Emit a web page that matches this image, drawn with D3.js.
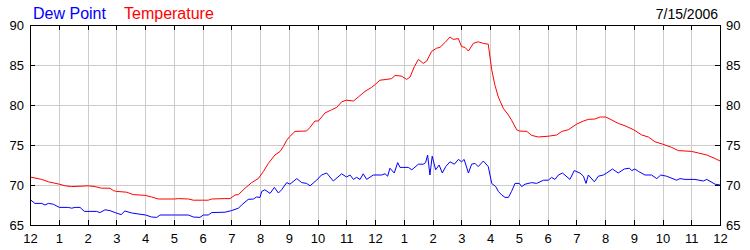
<!DOCTYPE html>
<html>
<head>
<meta charset="utf-8">
<script src="https://cdn.jsdelivr.net/npm/d3@7"></script>
<style>
    body { margin: 0; background: #fff; }
    text { font-family: Arial, "Liberation Sans", sans-serif; }
</style>
</head>
<body>
<svg width="750" height="250"></svg>
<script>
// heures depuis minuit -> valeurs
const tempHours = [0, 0.41, 0.64, 1.02, 1.22, 1.45, 2.03, 2.26, 2.49, 2.78, 2.9, 3.01, 3.36, 3.59, 4.02, 4.23, 4.46,
    5.02, 5.16, 5.51, 5.68, 6.01, 6.2, 6.32, 6.78, 6.96, 7.13, 7.25, 7.48, 7.71, 7.94, 8.12, 8.29, 8.52, 8.7, 8.81,
    8.93, 9.02, 9.22, 9.62, 9.74, 9.91, 10.03, 10.26, 10.49, 10.67, 10.84, 11.01, 11.25, 11.42, 11.65, 11.88, 12.02,
    12.17, 12.41, 12.58, 12.7, 12.93, 13.1, 13.22, 13.37, 13.51, 13.68, 13.8, 13.97, 14.14, 14.26, 14.43, 14.61,
    14.72, 14.9, 15.01, 15.13, 15.25, 15.42, 15.59, 15.77, 15.94, 16.06, 16.17, 16.29, 16.46, 16.64, 16.75, 16.93,
    17.02, 17.28, 17.45, 17.68, 18.03, 18.32, 18.5, 18.72, 19.01, 19.25, 19.42, 19.65, 19.83, 20.02, 20.17, 20.46,
    20.7, 21, 21.28, 21.51, 21.74, 22.01, 22.32, 22.55, 23.01, 23.25, 23.54, 23.83, 24];
const tempValues = [71.0, 70.7, 70.4, 70.1, 69.9, 69.8, 69.9, 69.8, 69.6, 69.6, 69.3, 69.2, 69.1, 68.8, 68.7, 68.5, 68.25,
    68.25, 68.3, 68.25, 68.1, 68.1, 68.1, 68.25, 68.3, 68.3, 68.75, 68.8, 69.6, 70.3, 70.8, 71.7, 72.7, 73.75, 74.2, 74.8,
    75.6, 76.0, 76.7, 76.75, 77.2, 78.0, 78.0, 79.0, 79.4, 79.7, 80.4, 80.6, 80.5, 81.0, 81.7, 82.2, 82.6,
    83.1, 83.2, 83.3, 83.7, 83.6, 83.2, 83.5, 84.8, 85.7, 85.2, 85.5, 86.7, 87.1, 87.2, 87.8, 88.5,
    88.2, 88.3, 87.3, 87.2, 86.75, 87.7, 87.9, 87.7, 87.6, 84.4, 82.5, 81.0, 79.6, 78.75, 78.1, 76.9,
    76.75, 76.7, 76.2, 76.0, 76.1, 76.25, 76.7, 76.9, 77.6, 78.0, 78.2, 78.25, 78.5, 78.5, 78.25, 77.7,
    77.4, 76.9, 76.25, 76.0, 75.4, 75.1, 74.7, 74.3, 74.2, 74.0, 73.75, 73.3, 73.0];

const dewHours = [0, 0.17, 0.41, 0.52, 0.64, 0.81, 1.02, 1.33, 1.45, 1.57, 1.74, 1.89, 2.32, 2.43, 2.61, 2.78, 2.96,
    3.17, 3.3, 3.54, 4.02, 4.23, 4.41, 4.52, 5.02, 5.51, 5.68, 5.91, 6.03, 6.2, 6.32, 6.78, 7.01, 7.25, 7.36, 7.59,
    7.77, 7.88, 8.0, 8.06, 8.17, 8.35, 8.5, 8.64, 8.75, 8.93, 9.04, 9.28, 9.45, 9.62, 9.74, 9.97, 10.14, 10.32, 10.55,
    10.84, 11.01, 11.13, 11.25, 11.36, 11.48, 11.59, 11.71, 11.94, 12.23, 12.35, 12.44, 12.52, 12.67, 12.79, 12.87,
    13.16, 13.28, 13.51, 13.68, 13.76, 13.83, 13.91, 13.99, 14.11, 14.23, 14.34, 14.46, 14.61, 14.76, 14.9, 15.01,
    15.1, 15.25, 15.36, 15.48, 15.59, 15.77, 15.94, 16.06, 16.2, 16.29, 16.41, 16.52, 16.64, 16.75, 16.87, 17.02,
    17.1, 17.22, 17.45, 17.62, 17.86, 18.03, 18.14, 18.26, 18.38, 18.52, 18.78, 18.93, 19.13, 19.25, 19.34, 19.42,
    19.63, 19.77, 19.94, 20.06, 20.26, 20.46, 20.67, 20.85, 20.93, 21.04, 21.16, 21.39, 21.62, 21.8, 21.94, 22.14,
    22.49, 22.61, 22.78, 23.13, 23.42, 23.54, 23.83, 24];
const dewValues = [68.2, 67.7, 67.7, 67.5, 67.7, 67.6, 67.2, 67.2, 67.1, 67.2, 67.2, 66.7, 66.7, 66.55, 66.9, 66.8, 66.55,
    66.3, 66.75, 66.5, 66.25, 66.0, 65.95, 66.25, 66.25, 66.25, 66.0, 65.95, 66.25, 66.25, 66.55, 66.6, 66.8, 67.1, 67.5, 68.2,
    68.25, 68.5, 68.45, 69.2, 69.4, 68.95, 69.7, 69.0, 69.4, 70.3, 70.1, 70.8, 70.3, 70.2, 69.9, 70.6, 71.25, 71.5, 70.5,
    71.4, 71.0, 71.25, 70.7, 70.95, 70.7, 71.4, 70.7, 71.25, 71.25, 71.4, 71.1, 72.1, 71.5, 72.8, 72.2,
    72.2, 71.9, 72.6, 72.6, 72.8, 73.75, 71.25, 73.6, 71.9, 72.5, 71.5, 72.3, 72.9, 72.6, 73.2, 72.9,
    73.2, 71.5, 72.6, 72.7, 72.3, 73.0, 72.3, 70.2, 69.8, 69.2, 68.75, 68.45, 68.45, 69.2, 70.2, 70.2,
    69.8, 70.1, 70.3, 70.2, 70.6, 70.6, 70.95, 70.7, 71.25, 71.5, 70.7, 71.8, 71.5, 71.1, 70.2, 71.25,
    70.4, 71.1, 71.25, 71.5, 72.0, 71.5, 72.0, 72.1, 71.8, 72.0, 71.7, 71.25, 71.25, 70.8, 71.25, 71.1,
    70.6, 70.8, 70.7, 70.7, 70.5, 70.7, 70.1, 70.0];

const hourTicks = d3.range(0, 25);
const degreeTicks = [65, 70, 75, 80, 85, 90];
const dateLabel = "7/15/2006";

const plotLeft = 30, plotTop = 25, plotRight = 720, plotBottom = 225;

const svg = d3.select("svg");

const x = d3.scaleLinear().domain([0, 24]).range([plotLeft, plotRight]);
const y = d3.scaleLinear().domain([65, 90]).range([plotBottom, plotTop]);

// grille
svg.append("g")
    .attr("transform", `translate(0,${plotBottom})`)
    .call(d3.axisBottom(x).tickValues(hourTicks.slice(1, -1)).tickSize(-(plotBottom - plotTop)).tickFormat(""))
    .call(g => g.select(".domain").remove())
    .call(g => g.selectAll("line").attr("stroke", "#cccccc").attr("shape-rendering", "crispEdges"));

svg.append("g")
    .attr("transform", `translate(${plotLeft},0)`)
    .call(d3.axisLeft(y).tickValues(degreeTicks.slice(1, -1)).tickSize(-(plotRight - plotLeft)).tickFormat(""))
    .call(g => g.select(".domain").remove())
    .call(g => g.selectAll("line").attr("stroke", "#cccccc").attr("shape-rendering", "crispEdges"));

// courbes
const line = d3.line()
    .x(d => x(d[0]))
    .y(d => y(d[1]));

svg.append("path")
    .datum(dewHours.map((h, i) => [h, dewValues[i]]))
    .attr("fill", "none")
    .attr("stroke", "#0000ff")
    .attr("stroke-width", 1)
    .attr("d", line);

svg.append("path")
    .datum(tempHours.map((h, i) => [h, tempValues[i]]))
    .attr("fill", "none")
    .attr("stroke", "#ff0000")
    .attr("stroke-width", 1)
    .attr("d", line);

// cadre
svg.append("rect")
    .attr("x", plotLeft + 0.5)
    .attr("y", plotTop + 0.5)
    .attr("width", plotRight - plotLeft)
    .attr("height", plotBottom - plotTop)
    .attr("fill", "none")
    .attr("stroke", "#000");

// axes avec petits traits intérieurs
const styleAxis = g => {
    g.select(".domain").remove();
    g.selectAll("line").attr("stroke", "#000").attr("shape-rendering", "crispEdges");
    g.selectAll("text").attr("fill", "#000").style("font-size", "13px").style("font-family", "Arial, 'Liberation Sans', sans-serif");
};

svg.append("g")
    .attr("transform", `translate(0,${plotTop})`)
    .call(d3.axisTop(x).tickValues(hourTicks).tickSize(-5).tickFormat(""))
    .call(styleAxis);

svg.append("g")
    .attr("transform", `translate(0,${plotBottom})`)
    .call(d3.axisBottom(x).tickValues(hourTicks).tickSize(-5).tickPadding(9).tickFormat(h => (h % 12) || 12))
    .call(styleAxis);

svg.append("g")
    .attr("transform", `translate(${plotLeft},0)`)
    .call(d3.axisLeft(y).tickValues(degreeTicks).tickSize(-5).tickPadding(6))
    .call(styleAxis);

svg.append("g")
    .attr("transform", `translate(${plotRight},0)`)
    .call(d3.axisRight(y).tickValues(degreeTicks).tickSize(-5).tickPadding(6))
    .call(styleAxis);

// légende
svg.append("text").attr("x", 33).attr("y", 19).attr("fill", "#0000ff").style("font-size", "16px").text("Dew Point");
svg.append("text").attr("x", 124).attr("y", 19).attr("fill", "#ff0000").style("font-size", "16px").text("Temperature");
svg.append("text").attr("x", 718).attr("y", 19).attr("text-anchor", "end").attr("fill", "#000").style("font-size", "14px").text(dateLabel);
</script>
</body>
</html>
